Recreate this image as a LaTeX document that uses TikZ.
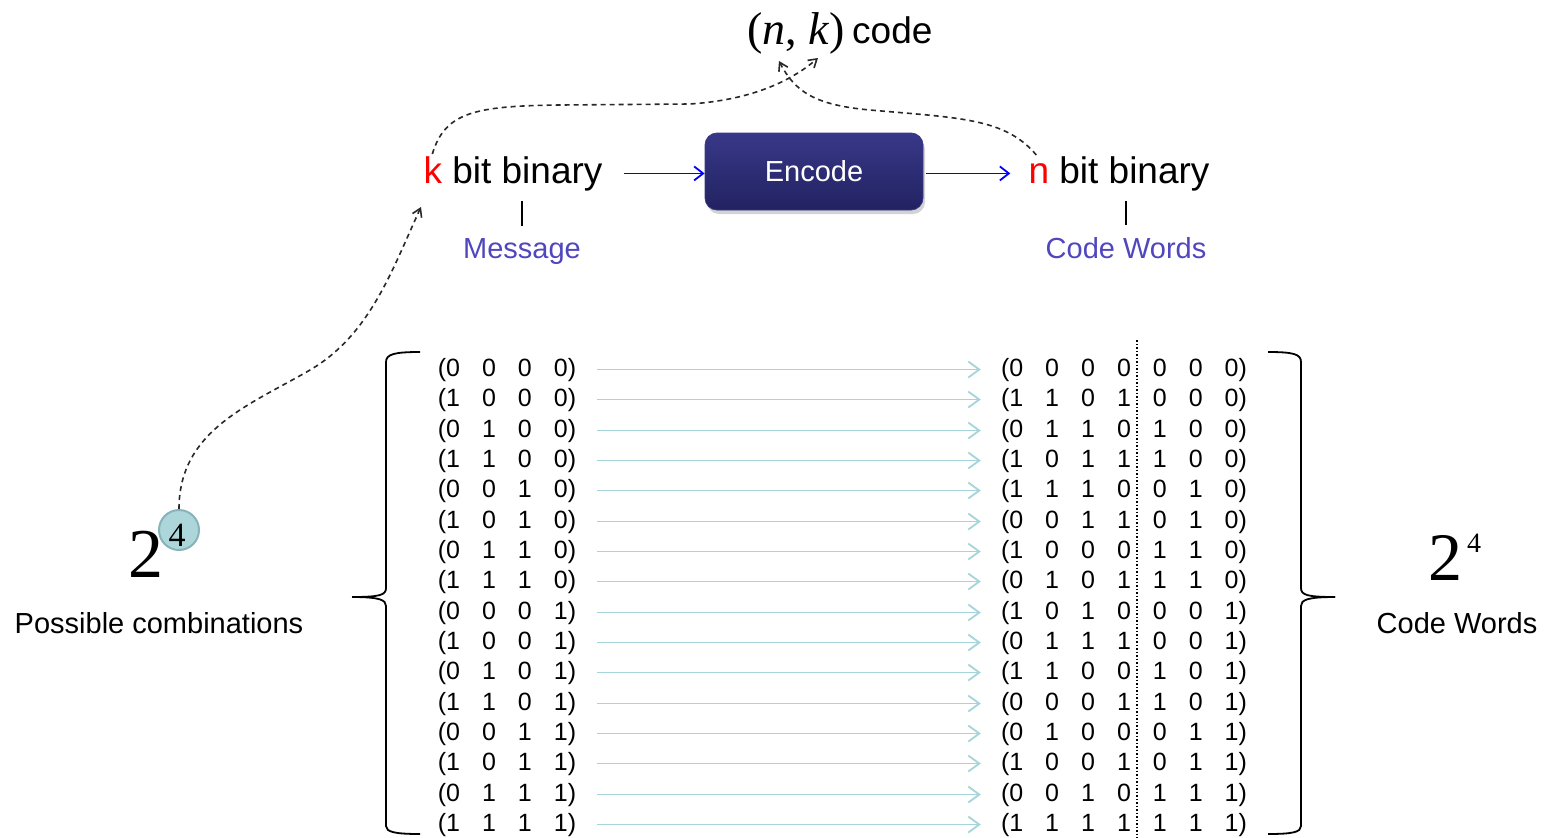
\documentclass[tikz,border=0pt]{standalone}
\usepackage{fontspec}
\setmainfont{Liberation Sans}
\newfontfamily\seriffont{Liberation Serif}
\usetikzlibrary{arrows.meta,shadows}

\definecolor{rowarrow}{RGB}{165,213,218}
\definecolor{labelblue}{RGB}{80,70,190}
\definecolor{navytop}{RGB}{56,56,136}
\definecolor{navybottom}{RGB}{34,34,98}
\definecolor{bubble}{RGB}{172,214,218}
\definecolor{bubbleedge}{RGB}{135,180,186}
\definecolor{dashgray}{RGB}{40,40,40}

% spacing between the bits of one word
\newcommand\bitgap{\hspace{22pt}}
\newcommand\msgbits[4]{(#1\bitgap#2\bitgap#3\bitgap#4)}
\newcommand\cwbits[7]{(#1\bitgap#2\bitgap#3\bitgap#4\bitgap#5\bitgap#6\bitgap#7)}

\begin{document}
\begin{tikzpicture}[x=1pt,y=-1pt,
  txt/.style={inner sep=0pt, anchor=base},
  bits/.style={txt, font=\fontsize{25}{25}\selectfont},
  rowlink/.style={draw=rowarrow, line width=1.8pt,
    -{Straight Barb[length=11pt,width=16pt]}, shorten <=21pt, shorten >=20pt},
  flow/.style={draw=blue, line width=1.8pt, -{Straight Barb[length=9pt,width=14pt]}},
  link/.style={draw=dashgray, line width=1.6pt, dash pattern=on 5pt off 4pt,
    -{Straight Barb[length=8pt,width=10pt]}},
  brace/.style={draw=black, line width=1.8pt},
  encode/.style={rounded corners=12pt, minimum width=218pt, minimum height=77pt,
    top color=navytop, bottom color=navybottom, draw=navytop, line width=0.8pt,
    text=white, font=\fontsize{29}{29}\selectfont,
    drop shadow={opacity=0.35, shadow xshift=2pt, shadow yshift=-4pt}},
]
\useasboundingbox (0,0) rectangle (1553,838);

% title
\node[txt, font=\seriffont\fontsize{46}{46}\selectfont] (nk) at (796,44) {(\textit{n}, \textit{k})};
\node[txt, anchor=base west, font=\fontsize{37}{37}\selectfont] (codeword) at (852,43) {code};

% encoder chain
\node[encode] (enc) at (814,171.5) {Encode};
\node[txt, font=\fontsize{37}{37}\selectfont] (kbin) at (513,183) {\textcolor{red}{k} bit binary};
\node[txt, font=\fontsize{37}{37}\selectfont] (nbin) at (1119,183) {\textcolor{red}{n} bit binary};
\node[txt, text=labelblue, font=\fontsize{29}{29}\selectfont] (msg) at (522,258) {Message};
\node[txt, text=labelblue, font=\fontsize{29}{29}\selectfont] (cwl) at (1126,258) {Code Words};

\draw[flow, shorten <=21pt] (kbin.east) -- (kbin.east -| enc.west);
\draw[flow, shorten <=3pt, shorten >=18pt] (enc.east |- nbin.west) -- (nbin.west);
\draw[line width=1.3pt, shorten <=10pt, shorten >=12pt] (kbin.south -| msg.north) -- (msg.north);
\draw[line width=1.3pt, shorten <=10pt, shorten >=12pt] (nbin.south -| cwl.north) -- (cwl.north);

% table of messages and code words
\foreach \m/\c [count=\i] in {0000/0000000, 1000/1101000, 0100/0110100, 1100/1011100,
  0010/1110010, 1010/0011010, 0110/1000110, 1110/0101110,
  0001/1010001, 1001/0111001, 0101/1100101, 1101/0001101,
  0011/0100011, 1011/1001011, 0111/0010111, 1111/1111111} {
  \node[bits] (m\i) at (507,{round(376+30.33*(\i-1))}) {\expandafter\msgbits\m};
  \node[bits] (c\i) at (1124,{round(376+30.33*(\i-1))}) {\expandafter\cwbits\c};
  \draw[rowlink] (m\i.east) -- (c\i.west);
}
\draw[line width=1.2pt, dash pattern=on 1.5pt off 2pt] (1137,340) -- (1137,838);

% braces
\draw[brace] (420,352) .. controls (395,352) and (386,354) .. (386,362) -- (386,588)
  .. controls (386,595) and (380,597) .. (352,597);
\draw[brace] (352,597) .. controls (380,597) and (386,600) .. (386,606) -- (386,826)
  .. controls (386,832) and (395,834) .. (420,834);
\draw[brace] (1268,352) .. controls (1293,352) and (1301,354) .. (1301,362) -- (1301,588)
  .. controls (1301,595) and (1307,597) .. (1335,597);
\draw[brace] (1335,597) .. controls (1307,597) and (1301,600) .. (1301,606) -- (1301,826)
  .. controls (1301,832) and (1293,834) .. (1268,834);

% counts
\node[txt, font=\seriffont\fontsize{70}{70}\selectfont] (two) at (146,577) {2};
\node[circle, fill=bubble, draw=bubbleedge, line width=2pt, minimum size=40pt, inner sep=0pt] (bub) at (179,530) {};
\node[txt, font=\seriffont\fontsize{34}{34}\selectfont] (four) at (177,546) {4};
\node[txt, font=\fontsize{29}{29}\selectfont] (poss) at (159,633) {Possible combinations};

\node[txt, font=\seriffont\fontsize{68}{68}\selectfont] (twob) at (1445,580) {2};
\node[txt, font=\seriffont\fontsize{28}{28}\selectfont] (fourb) at (1474,552) {4};
\node[txt, font=\fontsize{29}{29}\selectfont] (cwr) at (1457,633) {Code Words};

% dashed references
\coordinate (kin) at (421,207);
\coordinate (nkL) at (779,61);
\coordinate (nkR) at (818,58);
\draw[link] (bub.north) .. controls (179,430) and (250,405) .. (310,370)
  .. controls (370,335) and (392,270) .. (kin);
\draw[link] ([xshift=9pt,yshift=2pt]kbin.north west) .. controls (445,112) and (475,106) .. (560,105)
  -- (690,104) .. controls (750,100) and (790,82) .. (nkR);
\draw[link] ([xshift=8pt,yshift=1pt]nbin.north west) .. controls (1005,118) and (960,118) .. (870,110)
  .. controls (815,105) and (795,92) .. (nkL);
\end{tikzpicture}
\end{document}
